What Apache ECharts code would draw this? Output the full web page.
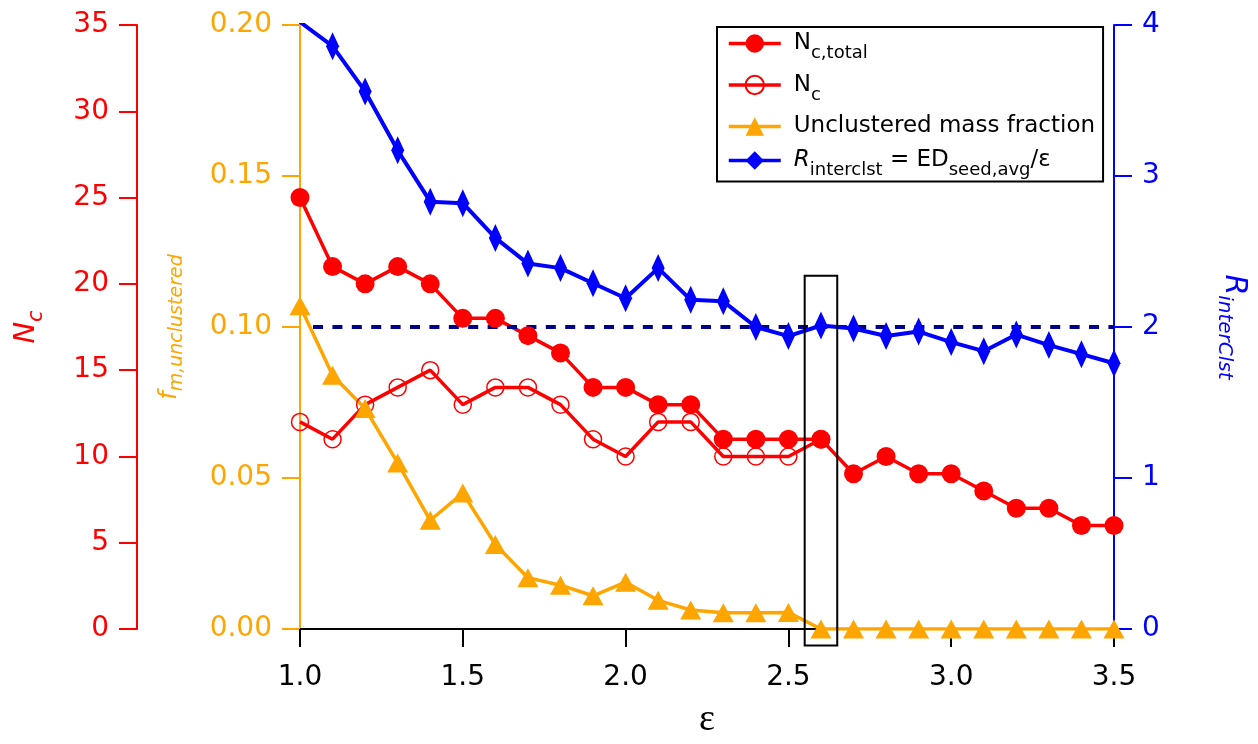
<!DOCTYPE html>
<html><head><meta charset="utf-8">
<script src="https://cdn.jsdelivr.net/npm/echarts@6/dist/echarts.min.js"></script>
<style>html,body{margin:0;padding:0;background:#fff}#c{width:1258px;height:744px}</style>
</head><body><div id="c"></div>
<script>
// ---- data ----
const epsilon = [1.0,1.1,1.2,1.3,1.4,1.5,1.6,1.7,1.8,1.9,2.0,2.1,2.2,2.3,2.4,2.5,2.6,2.7,2.8,2.9,3.0,3.1,3.2,3.3,3.4,3.5];
const ncTotal = [25,21,20,21,20,18,18,17,16,14,14,13,13,11,11,11,11,9,10,9,9,8,7,7,6,6];
const ncEps = [1.0,1.1,1.2,1.3,1.4,1.5,1.6,1.7,1.8,1.9,2.0,2.1,2.2,2.3,2.4,2.5,2.6];
const nc = [12,11,13,14,15,13,14,14,13,11,10,12,12,10,10,10,11];
const unclustered = [0.107,0.084,0.073,0.055,0.036,0.045,0.028,0.017,0.0145,0.011,0.0155,0.0095,0.0063,0.0054,0.0054,0.0055,0,0,0,0,0,0,0,0,0,0];
const rInterclst = [4.02,3.86,3.56,3.17,2.83,2.82,2.59,2.42,2.39,2.29,2.19,2.39,2.18,2.17,2.00,1.94,2.01,1.99,1.94,1.97,1.90,1.84,1.95,1.88,1.82,1.76];
const refLineX = [1.04, 3.5];
const refLineR = [2, 2];
const boxX = [2.55, 2.65];
const boxR = [2.34, -0.11];
const xRange = [1.0, 3.5, 0.5];
const ncRange = [0, 35, 5];
const fRange = [0, 0.2, 0.05];
const rRange = [0, 4, 1];
const seriesNames = ['Nc,total', 'Nc', 'Unclustered mass fraction', 'Rinterclst'];
const legendLabels = {
  'Nc,total': '{a|N}{s|c,total}',
  'Nc': '{a|N}{s|c}',
  'Unclustered mass fraction': '{a|Unclustered mass fraction}',
  'Rinterclst': '{ai|R}{s|interclst}{a| = ED}{s|seed,avg}{a|/ε}'
};

const RED = '#ff0000', ORANGE = '#ffa500', BLUE = '#0000ff', NAVY = '#00008b';
const FF = 'DejaVu Sans';

const zip = (xs, ys) => xs.map((x, i) => [x, ys[i]]);

const chart = echarts.init(document.getElementById('c'), null, {renderer: 'canvas'});

function yAxisBase(color, range) {
  return {
    type: 'value', min: range[0], max: range[1], interval: range[2],
    splitLine: {show: false},
    axisLine: {show: true, onZero: false, lineStyle: {color: color, width: 2}},
    axisTick: {show: true, length: 18, lineStyle: {color: color, width: 2}},
    axisLabel: {color: color, fontSize: 28, fontFamily: FF, margin: 28},
    nameLocation: 'middle'
  };
}

const option = {
  animation: false,
  backgroundColor: '#fff',
  textStyle: {fontFamily: FF},
  grid: {left: 300, right: 144, top: 25, bottom: 115, containLabel: false},
  legend: {
    data: seriesNames,
    orient: 'vertical',
    left: 717, top: 27,
    padding: [5, 8, 2, 10],
    itemGap: 11,
    itemWidth: 52, itemHeight: 23,
    borderColor: '#000', borderWidth: 2,
    backgroundColor: '#fff',
    lineStyle: {width: 3.5},
    formatter: name => legendLabels[name],
    textStyle: {
      fontFamily: FF, fontSize: 23, color: '#000', padding: [0, 0, 0, 8],
      rich: {
        a: {fontFamily: FF, fontSize: 23, color: '#000'},
        ai: {fontFamily: FF, fontSize: 23, color: '#000', fontStyle: 'italic'},
        s: {fontFamily: FF, fontSize: 18, color: '#000', padding: [20, 0, 0, 0]}
      }
    }
  },
  xAxis: {
    type: 'value', min: xRange[0], max: xRange[1], interval: xRange[2],
    splitLine: {show: false},
    axisLine: {show: true, onZero: false, lineStyle: {color: '#000', width: 2}},
    axisTick: {show: true, length: 18, lineStyle: {color: '#000', width: 2}},
    axisLabel: {color: '#000', fontSize: 28, fontFamily: FF, margin: 35, formatter: v => v.toFixed(1)},
    name: 'ε', nameLocation: 'middle', nameGap: 72,
    nameTextStyle: {fontFamily: 'Liberation Serif', fontSize: 38, color: '#000'}
  },
  yAxis: [
    Object.assign(yAxisBase(RED, ncRange), {
      position: 'left', offset: 163,
      name: '{i|N}{s|c}', nameGap: 90, nameRotate: 90,
      nameTextStyle: {rich: {
        i: {fontFamily: FF, fontSize: 29, fontStyle: 'italic', color: RED},
        s: {fontFamily: FF, fontSize: 21, fontStyle: 'italic', color: RED, padding: [20, 0, 0, 0]}
      }}
    }),
    Object.assign(yAxisBase(ORANGE, fRange), {
      position: 'left', offset: 0,
      axisLabel: {color: ORANGE, fontSize: 28, fontFamily: FF, margin: 28, formatter: v => v.toFixed(2)},
      name: '{i|f}{s|m,unclustered}', nameGap: 113, nameRotate: 90,
      nameTextStyle: {rich: {
        i: {fontFamily: FF, fontSize: 24, fontStyle: 'italic', color: ORANGE},
        s: {fontFamily: FF, fontSize: 19, fontStyle: 'italic', color: ORANGE, padding: [16, 0, 0, 0]}
      }}
    }),
    Object.assign(yAxisBase(BLUE, rRange), {
      position: 'right', offset: 0,
      name: '{i|R}{s|interClst}', nameGap: 100, nameRotate: -90,
      nameTextStyle: {rich: {
        i: {fontFamily: FF, fontSize: 30, fontStyle: 'italic', color: BLUE},
        s: {fontFamily: FF, fontSize: 20, fontStyle: 'italic', color: BLUE, padding: [20, 0, 0, 0]}
      }}
    })
  ],
  series: [
    {
      name: 'Nc', type: 'line', yAxisIndex: 0,
      data: zip(ncEps, nc),
      symbol: 'circle', symbolSize: 17,
      itemStyle: {color: 'rgba(255,255,255,0)', borderColor: RED, borderWidth: 1.5},
      lineStyle: {color: RED, width: 3.5}
    },
    {
      name: 'Nc,total', type: 'line', yAxisIndex: 0,
      data: zip(epsilon, ncTotal),
      symbol: 'circle', symbolSize: 19,
      itemStyle: {color: RED},
      lineStyle: {color: RED, width: 3.5}
    },
    {
      name: 'Unclustered mass fraction', type: 'line', yAxisIndex: 1,
      data: zip(epsilon, unclustered),
      symbol: 'triangle', symbolSize: [21, 19],
      itemStyle: {color: ORANGE},
      lineStyle: {color: ORANGE, width: 3.5}
    },
    {
      name: 'refline', type: 'line', yAxisIndex: 2,
      data: zip(refLineX, refLineR),
      symbol: 'none',
      lineStyle: {color: NAVY, width: 4, type: [10, 9.4]}
    },
    {
      name: 'Rinterclst', type: 'line', yAxisIndex: 2,
      data: zip(epsilon, rInterclst),
      symbol: 'diamond', symbolSize: [13, 28],
      itemStyle: {color: BLUE},
      lineStyle: {color: BLUE, width: 4}
    },
    {
      name: 'box', type: 'custom', yAxisIndex: 2,
      data: [[boxX[0], boxX[1], boxR[0], boxR[1]]],
      encode: {x: [0, 1], y: [2, 3]},
      clip: false, z: 10,
      renderItem: function (params, api) {
        const p1 = api.coord([api.value(0), api.value(2)]);
        const p2 = api.coord([api.value(1), api.value(3)]);
        return {
          type: 'rect',
          shape: {x: p1[0], y: p1[1], width: p2[0] - p1[0], height: p2[1] - p1[1]},
          style: {fill: 'none', stroke: '#000', lineWidth: 2}
        };
      }
    }
  ]
};
chart.setOption(option);
</script>
</body></html>
